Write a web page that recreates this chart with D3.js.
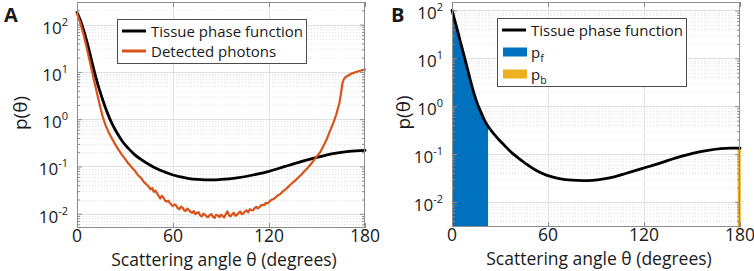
<!DOCTYPE html>
<html><head><meta charset="utf-8">
<script src="https://cdn.jsdelivr.net/npm/d3@7"></script>
<style>
body{margin:0;background:#fff}
svg{display:block}
text{font-family:"Open Sans",sans-serif;fill:#1a1a1a}
</style>
</head><body>
<svg id="c" width="754" height="271"></svg>
<script>
// ---------- data ----------
const thetaTicks = [0, 60, 120, 180];
const decadeExps = [-2, -1, 0, 1, 2];
const panelLabels = ["A", "B"];
const xLabel = "Scattering angle θ (degrees)";
const yLabel = "p(θ)";
const legendA = ["Tissue phase function", "Detected photons"];
const legendB = [["Tissue phase function", ""], ["p", "f"], ["p", "b"]];

// Panel A: tissue phase function
const tissueThetaA = [0,2,4,6,8,10,12,14,16,18,20,22,24,26,28,30,33,36,40,45,50,55,60,65,70,75,80,85,90,100,110,120,130,140,150,160,170,180];
const tissueValA   = [180,126,79,46,25,13.2,7.2,4.2,2.6,1.66,1.12,0.79,0.59,0.45,0.355,0.29,0.224,0.178,0.141,0.11,0.089,0.076,0.066,0.06,0.0556,0.0531,0.0519,0.0519,0.0531,0.0575,0.066,0.079,0.1,0.126,0.155,0.186,0.209,0.219];

// Panel A: detected photons
const detThetaA = [0,2,4,6,8,10,12,14,16,18,20,22,24,26,28,30,32,34,36,38,40,42,44,46,
  47,48,49,50,51,52,53,54,55,56,57,58,59,60,61,62,63,64,65,66,67,68,69,70,71,72,73,74,75,76,77,78,79,80,81,82,83,84,85,86,87,88,89,90,
  91,92,93,94,95,96,97,98,99,100,101,102,103,104,105,106,107,108,109,110,111,112,113,114,115,116,117,118,119,120,121,122,123,124,125,126,127,128,129,130,131,132,133,134,135,136,
  138,140,142,144,146,148,150,152,154,156,158,160,162,164,165,166,167,168,170,172,174,176,178,180];
const detValA = [170,110,63,33,16.6,8.3,4.2,2.14,1.15,0.72,0.51,0.38,0.29,0.224,0.178,0.145,0.117,0.098,0.083,0.066,0.057,0.046,0.04,0.033,
  0.035,0.029,0.031,0.027,0.024,0.021,0.024,0.022,0.019,0.018,0.019,0.017,0.0155,0.0145,0.0158,0.015,0.013,0.0125,0.0142,0.0135,0.0118,0.0115,0.0128,0.012,0.0109,0.0105,0.0114,0.0098,0.0104,0.0108,0.0092,0.0088,0.0101,0.0095,0.0087,0.0085,0.0094,0.0098,0.0086,0.0082,0.0095,0.0092,0.0085,0.0096,
  0.0089,0.0084,0.0099,0.0112,0.0093,0.0088,0.0097,0.0105,0.0091,0.0095,0.0104,0.0112,0.0098,0.0102,0.0112,0.0118,0.0107,0.0125,0.0119,0.0118,0.0131,0.014,0.0129,0.0138,0.0149,0.0155,0.0152,0.017,0.0165,0.0178,0.0192,0.02,0.0206,0.022,0.0238,0.025,0.026,0.028,0.0305,0.032,0.0345,0.037,0.04,0.043,0.046,0.049,
  0.057,0.066,0.078,0.092,0.11,0.135,0.165,0.2,0.27,0.37,0.55,0.8,1.25,2.2,3.5,6.0,7.2,7.8,8.6,9.3,9.8,10.3,10.8,11.2];

// Panel B: tissue phase function
const tissueThetaB = [0,2,4,6,8,10,12,14,16,18,20,22.5,25,28,31,34,38,43,47,53,59,67,75,82,88,95,102,109,116,123,130,140,151,160,168,174,180];
const tissueValB   = [100,57.5,32.4,17.8,10,5.5,3.0,1.74,1.1,0.76,0.54,0.38,0.295,0.224,0.174,0.138,0.102,0.076,0.06,0.0447,0.0363,0.0309,0.0285,0.0279,0.0282,0.0302,0.0339,0.0398,0.0468,0.055,0.0646,0.0832,0.105,0.12,0.13,0.133,0.133];
const pfRange = [0, 22.5];
const pbRange = [179, 180];

// ---------- drawing ----------
const svg = d3.select("#c");
const C = {black:"#000", orange:"#D95319", blue:"#0072BD", yellow:"#EDB120", axis:"#8c8c8c", grid:"#e0e0e0", minor:"#e2e2e2"};

function interpLog(ths, vals, t){
  for(let i=1;i<ths.length;i++){
    if(t<=ths[i]){const f=(t-ths[i-1])/(ths[i]-ths[i-1]);
      return Math.pow(10, Math.log10(vals[i-1])+f*(Math.log10(vals[i])-Math.log10(vals[i-1])));}
  }
  return vals[vals.length-1];
}

function panel(o){
  const x = d3.scaleLinear().domain([0,180]).range([o.l,o.r]);
  const y = d3.scaleLog().domain(o.yd).range([o.b,o.t]);
  const g = svg.append("g");
  const decs = decadeExps.map(e=>Math.pow(10,e));
  const minors = [];
  for(let e=-4;e<=3;e++) for(let m=2;m<=9;m++){const v=m*Math.pow(10,e); if(v>o.yd[0]&&v<o.yd[1]) minors.push(v);}
  const py = v=>Math.round(y(v))+0.5;
  const px = v=>Math.round(x(v))+0.5;

  // minor grid
  g.append("g").selectAll("line").data(minors).join("line")
    .attr("x1",o.l).attr("x2",o.r).attr("y1",py).attr("y2",py)
    .attr("stroke",C.minor).attr("stroke-width",1).attr("stroke-dasharray","1,2");
  // major grid
  g.append("g").selectAll("line").data(decs).join("line")
    .attr("x1",o.l).attr("x2",o.r).attr("y1",py).attr("y2",py)
    .attr("stroke",C.grid).attr("stroke-width",1);
  g.append("g").selectAll("line").data(thetaTicks.slice(1,-1)).join("line")
    .attr("x1",px).attr("x2",px).attr("y1",o.t).attr("y2",o.b)
    .attr("stroke",C.grid).attr("stroke-width",1);

  // fills (panel B)
  if(o.fills){
    o.fills.forEach(f=>{
      const ths=[f.range[0]]; o.curve.th.forEach(t=>{if(t>f.range[0]&&t<f.range[1]) ths.push(t);}); ths.push(f.range[1]);
      const pts = ths.map(t=>[t, interpLog(o.curve.th,o.curve.v,t)]);
      g.append("path").datum(pts)
        .attr("d", d3.area().x(d=>x(d[0])).y0(o.b).y1(d=>y(d[1])).curve(d3.curveMonotoneX))
        .attr("fill", f.color).attr("stroke", f.stroke?f.color:"none").attr("stroke-width", f.stroke||0);
    });
  }

  // axes (ticks inside)
  const axB = d3.axisBottom(x).tickValues(thetaTicks).tickSize(-5).tickFormat("");
  const axT = d3.axisTop(x).tickValues(thetaTicks).tickSize(-5).tickFormat("");
  const axL = d3.axisLeft(y).tickValues(decs).tickSize(-5).tickFormat("");
  const axR = d3.axisRight(y).tickValues(decs).tickSize(-5).tickFormat("");
  const axLm = d3.axisLeft(y).tickValues(minors).tickSize(-3).tickFormat("");
  const axRm = d3.axisRight(y).tickValues(minors).tickSize(-3).tickFormat("");
  const axes = [
    [axB,`translate(0,${o.b})`],[axT,`translate(0,${o.t})`],
    [axL,`translate(${o.l},0)`],[axR,`translate(${o.r},0)`],
    [axLm,`translate(${o.l},0)`],[axRm,`translate(${o.r},0)`]];
  axes.forEach(([a,tr])=>{
    const ga=g.append("g").attr("transform",tr).call(a);
    ga.selectAll("path.domain").remove();
    ga.selectAll("line").attr("stroke",C.axis);
  });

  // curves
  o.lines.forEach(L=>{
    const pts = L.th.map((t,i)=>[t,L.v[i]]);
    g.append("path").datum(pts)
      .attr("d", d3.line().x(d=>x(d[0])).y(d=>y(d[1])).curve(L.smooth?d3.curveMonotoneX:d3.curveLinear))
      .attr("fill","none").attr("stroke",L.color).attr("stroke-width",L.w)
      .attr("stroke-linejoin","round").attr("stroke-linecap","round");
  });

  // box
  g.append("rect").attr("x",o.l+0.5).attr("y",o.t+0.5).attr("width",o.r-o.l-1).attr("height",o.b-o.t-1)
    .attr("fill","none").attr("stroke",C.axis).attr("stroke-width",1);

  // tick labels
  g.append("g").selectAll("text").data(thetaTicks).join("text")
    .attr("x",d=>x(d)).attr("y",o.b+13.5).attr("text-anchor","middle")
    .attr("font-size",17.5).text(d=>d);
  const yl = g.append("g").selectAll("text").data(decadeExps).join("text")
    .attr("x",o.l-9).attr("y",d=>y(Math.pow(10,d))+9).attr("text-anchor","end").attr("font-size",17);
  yl.append("tspan").text("10");
  yl.append("tspan").attr("font-size",11).attr("dy",-8).text(d=>d);

  // axis labels
  g.append("text").attr("x",(o.l+o.r)/2+3).attr("y",o.b+37.5).attr("text-anchor","middle")
    .attr("font-size",17.5).text(xLabel);
  g.append("text").attr("transform",`translate(${o.yl},${(o.t+o.b)/2-2}) rotate(-90)`)
    .attr("text-anchor","middle").attr("font-size",19).text(yLabel);
  // panel letter
  g.append("text").attr("x",o.letterX).attr("y",22).attr("font-size",20).attr("font-weight","bold")
    .attr("fill","#000").text(o.letter);

  // legend
  const lg = o.legend;
  g.append("rect").attr("x",lg.x+0.5).attr("y",lg.y+0.5).attr("width",lg.w).attr("height",lg.h)
    .attr("fill","#fff").attr("stroke","#4d4d4d").attr("stroke-width",1);
  lg.items.forEach((it,i)=>{
    const cy = lg.y + lg.first + i*lg.step;
    if(it.type==="line"){
      g.append("line").attr("x1",lg.x+5).attr("x2",lg.x+29).attr("y1",cy).attr("y2",cy)
        .attr("stroke",it.color).attr("stroke-width",3);
    } else {
      g.append("rect").attr("x",lg.x+6).attr("y",cy-4.5).attr("width",24).attr("height",9).attr("fill",it.color);
    }
    const t = g.append("text").attr("x",lg.x+34).attr("y",cy+5.5).attr("font-size",15);
    t.append("tspan").text(it.label[0]);
    if(it.label[1]) t.append("tspan").attr("font-size",10.5).attr("dy",4).text(it.label[1]);
  });
}

panel({
  l:77, r:365, t:2, b:228, yd:[0.005,300], yl:27, letter:panelLabels[0], letterX:4,
  lines:[
    {th:tissueThetaA, v:tissueValA, color:C.black, w:2.8, smooth:true},
    {th:detThetaA, v:detValA, color:C.orange, w:2.2, smooth:false}
  ],
  legend:{x:117, y:19, w:189, h:44, first:12, step:20, items:[
    {type:"line", color:C.black, label:[legendA[0],""]},
    {type:"line", color:C.orange, label:[legendA[1],""]}]}
});

panel({
  l:452, r:740, t:2, b:227, yd:[0.003,150], yl:410, letter:panelLabels[1], letterX:391,
  curve:{th:tissueThetaB, v:tissueValB},
  fills:[{range:pfRange, color:C.blue},{range:pbRange, color:C.yellow, stroke:1.5}],
  lines:[{th:tissueThetaB, v:tissueValB, color:C.black, w:2.8, smooth:true}],
  legend:{x:497, y:18, w:189, h:68, first:12, step:22, items:[
    {type:"line", color:C.black, label:legendB[0]},
    {type:"patch", color:C.blue, label:legendB[1]},
    {type:"patch", color:C.yellow, label:legendB[2]}]}
});
</script>
</body></html>
